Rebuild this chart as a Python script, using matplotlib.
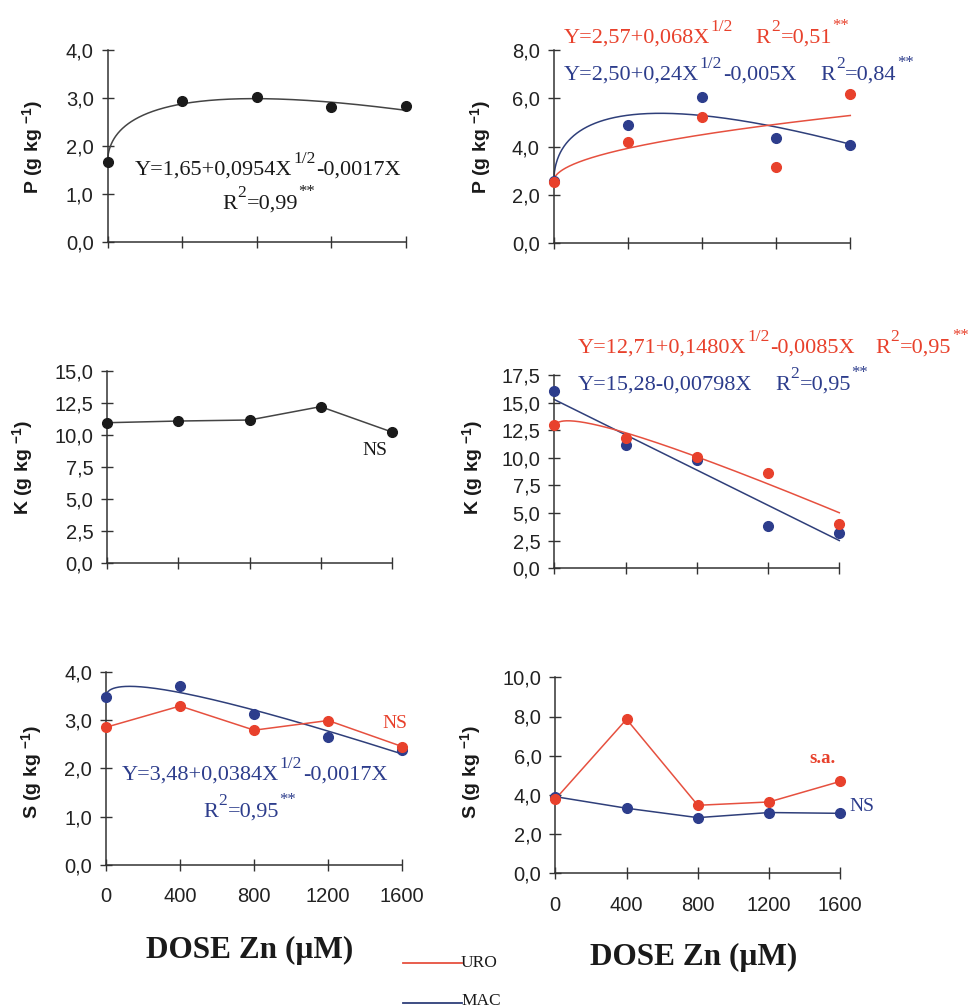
import numpy as np
import matplotlib
matplotlib.use("Agg")
import matplotlib.pyplot as plt

# ---------------- data ----------------
dose = [0, 400, 800, 1200, 1600]
xtick_labels = ["0", "400", "800", "1200", "1600"]

p_single = [1.66, 2.93, 3.02, 2.81, 2.84]
p_uro = [2.52, 4.20, 5.21, 3.17, 6.17]
p_mac = [2.58, 4.90, 6.04, 4.34, 4.07]

k_single = [10.95, 11.08, 11.16, 12.20, 10.23]
k_uro = [12.97, 11.77, 10.10, 8.66, 3.98]
k_mac = [16.05, 11.13, 9.80, 3.83, 3.17]

s_uro_left = [2.85, 3.29, 2.79, 2.99, 2.45]
s_mac_left = [3.48, 3.70, 3.12, 2.64, 2.39]
s_uro_right = [3.78, 7.86, 3.47, 3.64, 4.69]
s_mac_right = [3.91, 3.32, 2.84, 3.10, 3.06]

# regression coefficients (a, b, c): Y = a + b*X^0.5 + c*X
fit_p_single = (1.65, 0.0954, -0.0017)
fit_p_uro = (2.57, 0.068, 0.0)
fit_p_mac = (2.50, 0.24, -0.005)
fit_k_uro = (12.71, 0.1480, -0.0085)
fit_k_mac = (15.28, 0.0, -0.00798)
fit_s_mac = (3.48, 0.0384, -0.0017)

yt_p_left = ["0,0", "1,0", "2,0", "3,0", "4,0"]
yt_p_right = ["0,0", "2,0", "4,0", "6,0", "8,0"]
yt_k_left = ["0,0", "2,5", "5,0", "7,5", "10,0", "12,5", "15,0"]
yt_k_right = ["0,0", "2,5", "5,0", "7,5", "10,0", "12,5", "15,0", "17,5"]
yt_s_left = ["0,0", "1,0", "2,0", "3,0", "4,0"]
yt_s_right = ["0,0", "2,0", "4,0", "6,0", "8,0", "10,0"]

# ---------------- style ----------------
plt.rcParams['font.family'] = ['Liberation Sans', 'DejaVu Sans']
plt.rcParams['mathtext.fontset'] = 'custom'
plt.rcParams['mathtext.rm'] = 'Liberation Serif'
plt.rcParams['mathtext.it'] = 'Liberation Serif:italic'
plt.rcParams['mathtext.bf'] = 'Liberation Sans:bold'

RED = '#e8412c'
BLUE = '#2d3d8c'
REDL = '#e6503f'
BLUEL = '#2f3f7a'
BLACK = '#1a1a1a'
SERIF = ['Liberation Serif', 'DejaVu Serif']

W, H = 972, 1008
fig = plt.figure(figsize=(W / 100, H / 100), dpi=100)
fig.patch.set_facecolor('white')
renderer = fig.canvas.get_renderer()


def make_ax(x0, x1, yb, yt, ymax, yticks, ylabels, xlabels=False):
    ax = fig.add_axes([x0 / W, 1 - yb / H, (x1 - x0) / W, (yb - yt) / H])
    ax.set_xlim(0, 1600)
    ax.set_ylim(0, ymax)
    ax.patch.set_alpha(0)
    for s in ('top', 'right'):
        ax.spines[s].set_visible(False)
    for s in ('left', 'bottom'):
        ax.spines[s].set_color('#333333')
        ax.spines[s].set_linewidth(1.1)
    ax.set_xticks(dose)
    ax.set_yticks(yticks)
    ax.set_yticklabels(ylabels, fontsize=14.5, color='#222222')
    if xlabels:
        ax.set_xticklabels(xtick_labels, fontsize=14.5, color='#222222')
    else:
        ax.set_xticklabels([])
    ax.tick_params(axis='both', direction='inout', length=8, width=1.0,
                   color='#333333')
    ax.tick_params(axis='y', pad=6)
    ax.tick_params(axis='x', pad=12)
    return ax


def fit_curve(ax, coef, color, lw=1.1):
    xs = np.linspace(0, 1600, 400)
    a, b, c = coef
    ax.plot(xs, a + b * np.sqrt(xs) + c * xs, color=color, lw=lw, clip_on=False, zorder=2)


def pts(ax, ys, color, line=False, lw=1.1, lcolor=None):
    if line:
        ax.plot(dose, ys, color=lcolor or color, lw=lw, clip_on=False, zorder=2)
    ax.plot(dose, ys, 'o', color=color, ms=7, clip_on=False, zorder=3)


def ftext(x, y, s, **kw):
    return fig.text(x / W, 1 - y / H, s, **kw)


FS = 16      # main equation size
SUP = 12.5   # superscript size


def rich(x, y, segs, color):
    """segs: list of (text, kind, gap_before_px). kind: 'n' normal, 's' superscript, 'a' asterisks"""
    cx = x
    for s, kind, gap in segs:
        cx += gap
        if kind == 'n':
            t = ftext(cx, y, s, family=SERIF, fontsize=FS, color=color, va='baseline')
        elif kind == 's':
            t = ftext(cx, y - 12, s, family=SERIF, fontsize=SUP, color=color, va='baseline')
        else:
            t = ftext(cx, y - 13, s, family=SERIF, fontsize=12, color=color, va='baseline')
        bb = t.get_window_extent(renderer)
        cx += bb.width + 0.5


# ---------- Top-left: P ----------
ax = make_ax(107.5, 405.5, 242.3, 50, 4.0, [0, 1, 2, 3, 4], yt_p_left)
fit_curve(ax, fit_p_single, '#444444')
pts(ax, p_single, BLACK)
rich(135, 175, [("Y=1,65+0,0954X", 'n', 0), ("1/2", 's', 0), ("-0,0017X", 'n', 0)], BLACK)
rich(222, 209, [("R", 'n', 0), ("2", 's', 0), ("=0,99", 'n', 0), ("**", 'a', 0)], BLACK)

# ---------- Top-right: P ----------
ax = make_ax(553.7, 850.3, 243.3, 50, 8.0, [0, 2, 4, 6, 8], yt_p_right)
fit_curve(ax, fit_p_mac, BLUEL)
fit_curve(ax, fit_p_uro, REDL)
pts(ax, p_mac, BLUE)
pts(ax, p_uro, RED)
rich(564, 43, [("Y=2,57+0,068X", 'n', 0), ("1/2", 's', 0),
               ("R", 'n', 22), ("2", 's', 0), ("=0,51", 'n', 0), ("**", 'a', 0)], RED)
rich(564, 80, [("Y=2,50+0,24X", 'n', 0), ("1/2", 's', 0), ("-0,005X", 'n', 0),
               ("R", 'n', 24), ("2", 's', 0), ("=0,84", 'n', 0), ("**", 'a', 0)], BLUE)

# ---------- Middle-left: K ----------
ax = make_ax(107.3, 391.7, 563.3, 370.7, 15.0, [0, 2.5, 5, 7.5, 10, 12.5, 15], yt_k_left)
pts(ax, k_single, BLACK, line=True, lcolor='#444444')
ftext(375, 455, "NS", family=SERIF, fontsize=14, color=BLACK, ha='center')

# ---------- Middle-right: K ----------
ax = make_ax(554.3, 839.3, 568.3, 375, 17.5, [0, 2.5, 5, 7.5, 10, 12.5, 15, 17.5], yt_k_right)
fit_curve(ax, fit_k_mac, BLUEL)
fit_curve(ax, fit_k_uro, REDL)
pts(ax, k_mac, BLUE)
pts(ax, k_uro, RED)
rich(578, 353, [("Y=12,71+0,1480X", 'n', 0), ("1/2", 's', 0), ("-0,0085X", 'n', 0),
                ("R", 'n', 20), ("2", 's', 0), ("=0,95", 'n', 0), ("**", 'a', 0)], RED)
rich(578, 390, [("Y=15,28-0,00798X", 'n', 0),
                ("R", 'n', 22), ("2", 's', 0), ("=0,95", 'n', 0), ("**", 'a', 0)], BLUE)

# ---------- Bottom-left: S ----------
ax = make_ax(106, 402.3, 865, 671.7, 4.0, [0, 1, 2, 3, 4], yt_s_left, xlabels=True)
fit_curve(ax, fit_s_mac, BLUEL)
pts(ax, s_mac_left, BLUE)
pts(ax, s_uro_left, RED, line=True, lcolor=REDL)
ftext(395, 728, "NS", family=SERIF, fontsize=14, color=RED, ha='center')
rich(122, 780, [("Y=3,48+0,0384X", 'n', 0), ("1/2", 's', 0), ("-0,0017X", 'n', 0)], BLUE)
rich(203, 817, [("R", 'n', 0), ("2", 's', 0), ("=0,95", 'n', 0), ("**", 'a', 0)], BLUE)

# ---------- Bottom-right: S ----------
ax = make_ax(555.3, 840.3, 873.3, 677.3, 10.0, [0, 2, 4, 6, 8, 10], yt_s_right, xlabels=True)
pts(ax, s_mac_right, BLUE, line=True, lcolor=BLUEL)
pts(ax, s_uro_right, RED, line=True, lcolor=REDL)
ftext(823, 763, "s.a.", family=SERIF, fontsize=13.5, color=RED, ha='center', weight='bold')
ftext(862, 811, "NS", family=SERIF, fontsize=14, color=BLUE, ha='center')

# ---------- y labels ----------
ylab_kw = dict(rotation=90, ha='center', va='center', fontsize=14, weight='bold', color=BLACK)
ftext(33, 147, r"P (g kg $^{\mathbf{-1}}$)", **ylab_kw)
ftext(481, 147, r"P (g kg $^{\mathbf{-1}}$)", **ylab_kw)
ftext(23, 467, r"K (g kg $^{\mathbf{-1}}$)", **ylab_kw)
ftext(473, 467, r"K (g kg $^{\mathbf{-1}}$)", **ylab_kw)
ftext(32, 772, r"S (g kg $^{\mathbf{-1}}$)", **ylab_kw)
ftext(471, 772, r"S (g kg $^{\mathbf{-1}}$)", **ylab_kw)

# ---------- x labels ----------
ftext(250, 950, "DOSE Zn (µM)", family=SERIF, fontsize=22.5, weight='bold',
      ha='center', va='center', color=BLACK)
ftext(694, 957, "DOSE Zn (µM)", family=SERIF, fontsize=22.5, weight='bold',
      ha='center', va='center', color=BLACK)

# ---------- legend ----------
fig.add_artist(plt.Line2D([403 / W, 462 / W], [1 - 963 / H, 1 - 963 / H], color=REDL, lw=1.3))
fig.add_artist(plt.Line2D([403 / W, 462 / W], [1 - 1003 / H, 1 - 1003 / H], color=BLUEL, lw=1.3))
ftext(461, 963, "URO", family=SERIF, fontsize=12.5, va='center', color=BLACK)
ftext(461, 1001, "MAC", family=SERIF, fontsize=12.5, va='center', color=BLACK)

fig.savefig("out.png", dpi=100, facecolor='white')
